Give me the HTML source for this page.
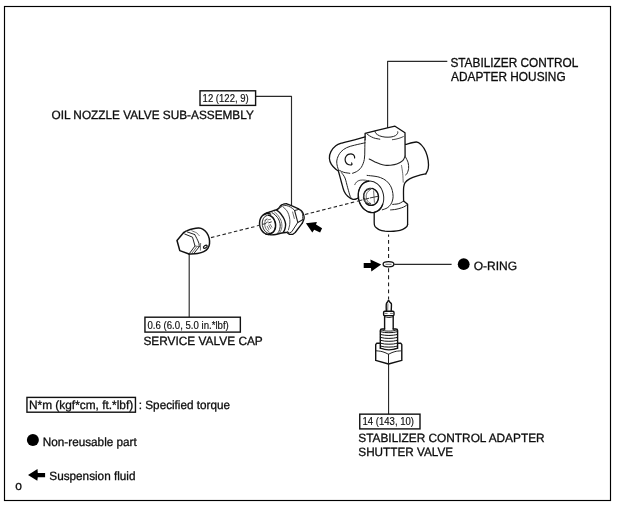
<!DOCTYPE html>
<html>
<head>
<meta charset="utf-8">
<title>Stabilizer Control Adapter Housing Components</title>
<style>
html,body{margin:0;padding:0;background:#fff;}
body{width:621px;height:509px;overflow:hidden;font-family:"Liberation Sans",sans-serif;}
svg{display:block;position:absolute;left:0;top:0;will-change:transform;filter:grayscale(1);}
text{font-family:"Liberation Sans",sans-serif;fill:#0a0a0a;}
.t{font-size:12px;stroke:#111;stroke-width:0.3px;}
.g{text-rendering:geometricPrecision;}
.s{font-size:10.1px;stroke:#222;stroke-width:0.15px;}
.ld{stroke:#2a2a2a;stroke-width:1.15;fill:none;stroke-linejoin:round;}
.bx{stroke:#111;stroke-width:1.4;fill:#fff;}
.dash{stroke:#222;stroke-width:1.1;fill:none;stroke-dasharray:3.5 2.4;}
.a{stroke:#111;stroke-width:1.3;fill:none;stroke-linecap:round;stroke-linejoin:round;}
.b{stroke:#222;stroke-width:1;fill:none;stroke-linecap:round;stroke-linejoin:round;}
.c{stroke:#333;stroke-width:0.7;fill:none;stroke-linecap:round;stroke-linejoin:round;}
.aw{stroke:#111;stroke-width:1.3;fill:#fff;stroke-linecap:round;stroke-linejoin:round;}
.bw{stroke:#222;stroke-width:1;fill:#fff;stroke-linecap:round;stroke-linejoin:round;}
.w{fill:#fff;stroke:none;}
</style>
</head>
<body>
<svg width="621" height="509" viewBox="0 0 621 509">
<rect x="0" y="0" width="621" height="509" fill="#fff"/>
<!-- frame -->
<rect x="4.5" y="6.5" width="606" height="494" fill="none" stroke="#000" stroke-width="1.15"/>

<!-- leader lines -->
<g id="leaders">
<path class="ld" d="M447.3 61.35 H387.6 V128"/>
<path class="ld" d="M255.6 96.4 H291.5 V205.5"/>
<path class="ld" d="M189.2 254 V317"/>
<path class="ld" d="M388.55 363.5 V414"/>
<path class="ld" d="M394.2 264.4 H451.6"/>
</g>

<!-- dashed axis lines -->
<g id="axes">
<path class="dash" d="M211 237.6 L255.5 226.4"/>
<path class="dash" d="M305 214.5 L355.5 201.7"/>
<path class="dash" d="M388.55 234.4 V299.2" style="stroke-dasharray:3.9 3.17;stroke-dashoffset:1.5"/>
</g>

<!-- parts -->
<g id="housing">
<path class="a" d="M365.1 139.8L365.1 133.4L375 130.8L387.4 127.8L395 126.2L405 132.8L405.1 156.2"/>
<path class="b" d="M364.9 139.8C364.9 141.5 364.9 146.7 364.8 150C364.7 153.3 364.9 156.6 364.3 159.5C363.7 162.4 362.6 165.3 361.3 167.3C360 169.3 357.9 170.7 356.4 171.7C354.9 172.7 353.1 172.9 352.5 173.2"/>
<path class="b" d="M375 131.3C375.2 131.7 375.2 132.8 376 133.5C376.8 134.2 378 135.2 379.5 135.8C381 136.4 383.1 136.9 385 137.1C386.9 137.3 389.2 137.2 391 137C392.8 136.8 394.4 136.2 395.5 135.6C396.6 135 397.2 134 397.6 133.4C398 132.8 397.7 132.1 397.7 131.8"/>
<path class="b" d="M366.9 133.9C367.3 134.2 368.4 135.2 369.5 135.8C370.6 136.5 372.2 137.3 373.5 137.8C374.8 138.3 375.9 138.5 377 138.7C378.1 138.9 379.3 139.1 379.8 139.2"/>
<path class="b" d="M392.4 139.7C393 139.6 394.7 139.4 396 139.1C397.3 138.8 398.8 138.4 400 138C401.2 137.6 402.8 136.8 403.3 136.6" style="stroke-width:0.85"/>
<path class="b" d="M369.2 159C370.2 159.5 373.2 161.1 375 161.9C376.8 162.7 378.3 163.4 380 164C381.7 164.6 383.4 165 385 165.2C386.6 165.4 387.9 165.5 389.9 165.3C391.9 165.1 394.7 164.9 396.8 164.1C398.9 163.3 401.3 161.9 402.7 160.6C404.1 159.3 404.7 156.9 405.1 156.2" style="stroke-width:1.1"/>
<path class="a" d="M365.1 136.9C363.3 137.4 358.2 138.8 354.5 139.8C350.8 140.8 345.8 141.8 342.7 142.8C339.6 143.8 337.8 144.2 335.8 145.7C333.8 147.2 332 149.5 330.9 151.6C329.8 153.7 329.3 156.4 329.4 158.5C329.5 160.6 330.3 162.6 331.4 164.4C332.5 166.2 334.6 168.2 335.8 169.3C337 170.4 337.9 170.6 338.3 170.8"/>
<path class="b" d="M365.1 142.8C363.3 143.2 357.6 144.4 354.5 145.2C351.4 146 348.9 146.5 346.6 147.7C344.3 148.8 342.2 150.3 340.7 152.1C339.1 153.9 337.9 156.6 337.3 158.5C336.7 160.4 336.6 161.6 336.8 163.4C337 165.2 337.8 168.1 338.3 169.3C338.8 170.5 338.8 170 339.7 170.5C340.6 171 342 171.8 343.7 172.3C345.4 172.8 348.8 173.1 349.8 173.3"/>
<path class="a" d="M354.6 158C354.6 157.7 354.7 156.9 354.4 156.3C354.1 155.7 353.6 155 353 154.6C352.4 154.2 351.8 153.8 351 153.8C350.2 153.8 349.1 154 348.3 154.4C347.5 154.8 346.5 155.7 346 156.5C345.5 157.3 345.1 158.5 345.1 159.5C345.1 160.5 345.5 161.8 346 162.6C346.5 163.4 347.5 164.2 348.2 164.6C348.9 165 349.7 165 350.3 165C350.9 165 351.8 164.7 352 164.4C352.2 164.1 351.7 163.2 351.6 163" style="stroke-width:1.2"/>
<path class="a" d="M338.4 171C338.9 172.9 340.6 179.1 341.5 182.5C342.4 185.9 343.1 189 344.1 191.3C345.1 193.6 346.2 194.9 347.7 196.2C349.2 197.5 351.4 198.9 353 199.3C354.6 199.7 356.4 198.8 357.4 198.4C358.3 198 358.5 197.2 358.7 197"/>
<path class="b" d="M341.5 172.7C342.1 173.6 344 175.5 345 178C346 180.5 346.8 184.7 347.7 187.8C348.6 190.9 349.6 194.9 350.3 196.6C351 198.3 351.4 197.9 351.6 198.2"/>
<path class="a" d="M405.6 144.4C407.4 144 413.8 141.9 416.4 142C419 142.1 419.7 143.3 421.3 144.9C422.9 146.5 424.7 149.2 425.8 151.8C426.9 154.4 427.8 157.8 428.2 160.6C428.6 163.4 428.6 166.3 428.2 168.5C427.8 170.7 426.2 173 425.8 173.9"/>
<path class="a" d="M425.8 173.9C424.4 174.2 420.1 175.1 417.4 175.9C414.7 176.7 411.7 177.7 409.6 178.8C407.6 179.9 406.1 181.3 405.1 182.7C404.1 184.1 404 185.3 403.7 187.2C403.4 189.1 403.5 191.7 403.5 194C403.5 196.3 403.6 199.8 403.6 201"/>
<path class="b" d="M405.6 157.2C406 158.1 407.6 160.7 408.1 162.6C408.6 164.5 408.8 166.7 408.6 168.5C408.4 170.3 407.6 172.3 407.1 173.4C406.6 174.5 405.9 174.7 405.6 174.9"/>
<path class="c" d="M401.5 165.5C401.7 166.8 402.4 170.6 402.7 173.4C403 176.2 403.1 180.7 403.2 182.2"/>
<path class="b" d="M367.1 175.4C368.4 175.6 372.8 175.9 375 176.3C377.2 176.7 378.6 176.8 380.5 177.6C382.4 178.3 384.7 179.5 386.3 180.8C387.9 182.1 389.3 183.9 390.3 185.5C391.3 187.1 391.8 188.7 392.3 190.5C392.8 192.3 393.1 194.8 393.1 196.6C393.1 198.3 392.7 199.7 392.3 201C391.9 202.3 391.5 203.4 390.6 204.6C389.8 205.8 388.6 207 387.2 207.9C385.8 208.8 383.1 209.5 382.3 209.8"/>
<path class="b" d="M354.8 184.7C355.1 184.2 355.6 182.8 356.5 182C357.4 181.2 358.6 180.5 360.1 180.2C361.6 179.9 363.9 180 365.4 180.2C366.9 180.3 368.3 180.9 368.9 181.1" style="stroke-width:0.8"/>
<ellipse class="b" cx="371" cy="196.8" rx="12.6" ry="15.9" transform="rotate(-12 371 196.8)"/>
<path class="a" d="M368.8 181.1C368.2 181.3 366.3 181.6 365.2 182.1C364.1 182.7 363 183.5 362.2 184.4C361.3 185.4 360.5 186.6 359.9 187.8C359.3 189.1 358.8 190.5 358.5 192C358.3 193.5 358.2 195.1 358.3 196.6C358.4 198.1 358.7 199.7 359.1 201.2C359.6 202.7 360.2 204.1 361 205.4C361.8 206.7 362.7 207.9 363.8 208.9C364.8 209.9 366 210.7 367.1 211.3C368.3 211.9 369.6 212.3 370.8 212.5C372.1 212.6 373.4 212.6 374.6 212.3C375.8 212 376.9 211.5 378 210.8C379 210.1 380 209.1 380.8 208C381.6 206.9 382.4 204.9 382.7 204.3"/>
<ellipse class="b" cx="370.9" cy="196.8" rx="7.6" ry="8.6" transform="rotate(-8 370.9 196.8)"/>
<path class="a" d="M372.3 188.4C372.8 188.6 374.2 189.1 374.9 189.7C375.7 190.3 376.4 191 377 191.9C377.5 192.7 378 193.7 378.2 194.7C378.5 195.7 378.6 196.8 378.5 197.8C378.4 198.9 378.2 199.9 377.8 200.8C377.4 201.7 376.8 202.6 376.1 203.3C375.4 203.9 374.6 204.5 373.8 204.9C372.9 205.2 371.9 205.4 371 205.4C370.1 205.4 369.2 205.1 368.3 204.8C367.4 204.4 366.3 203.4 365.9 203.1" style="stroke-width:1.3"/>
<path class="b" d="M370.7 204C370.3 203.9 368.9 203.8 368.1 203.4C367.4 203.1 366.6 202.5 366 201.7C365.3 201 364.8 200.1 364.5 199.2C364.2 198.3 364 197.2 364 196.2C364 195.2 364.2 194.1 364.5 193.2C364.9 192.4 365.4 191.5 366 190.9C366.7 190.3 367.5 189.8 368.2 189.5C369 189.2 370.4 189.3 370.8 189.3"/>
<path class="c" d="M370.7 203.4C370.4 203.2 369.5 202.9 369 202.5C368.5 202.1 368 201.6 367.6 201.1C367.2 200.5 366.9 199.8 366.6 199.1C366.4 198.4 366.2 197.7 366.2 197C366.1 196.2 366.2 195.5 366.3 194.8C366.5 194.1 366.7 193.4 367 192.8C367.3 192.2 367.7 191.7 368.2 191.3C368.7 190.8 369.5 190.5 369.7 190.3"/>
<path class="c" d="M373.6 190.8L374.4 202.3"/>
<path class="b" d="M357.3 201.2L362 200" style="stroke:#333"/>
<path class="b" d="M364.3 199.4L368.8 198.3" style="stroke:#333"/>
<path class="b" d="M370.3 197.9L378 196.3" style="stroke:#333"/>
<path class="a" d="M374.2 212.4C374.2 213.7 374.2 217.9 374.2 220C374.2 222.1 374.1 223.5 374.4 224.8C374.7 226.1 375.1 226.8 376 227.6C376.9 228.4 378 229.3 379.5 229.9C381 230.5 383.1 230.9 385 231.2C386.9 231.4 388.6 231.4 390.6 231.4C392.6 231.4 395 231.2 397 230.9C399 230.6 401.2 230 402.8 229.3C404.4 228.6 405.8 227.6 406.6 226.8C407.4 226 407.4 224.9 407.6 224.5"/>
<path class="a" d="M407.6 224.5L407.6 204.3L403.6 201"/>
<path class="b" d="M392.7 204.4C393.4 204.3 395.7 204.2 397 204C398.3 203.8 399.2 203.5 400.3 203C401.4 202.5 403.1 201.3 403.6 201"/>
<path class="b" d="M390.6 209.9C391.5 209.8 394.2 209.7 396 209.3C397.8 209 400.1 208.3 401.6 207.8C403.1 207.3 404.1 206.9 405 206.3C405.9 205.8 406.9 204.8 407.3 204.5"/>
</g>
<g id="nozzle">
<path class="a" d="M278.7 208.3C278.9 208 279.5 207 280 206.4C280.5 205.8 281.1 205.3 281.7 204.9C282.3 204.5 283.1 204.2 283.8 204C284.6 203.8 285.8 203.8 286.2 203.7"/>
<path class="a" d="M286.2 203.7L291.4 205.6L298.1 208.6"/>
<path class="a" d="M298.1 208.6C298.7 209 301 210.1 301.9 211.2C302.8 212.2 303.3 213.7 303.7 214.9C304.1 216.2 304.3 217.3 304.1 218.7C303.9 220.1 302.6 222.4 302.3 223.1"/>
<path class="a" d="M302.3 223.1L295.2 232.5L292.9 234.3L289.2 234.3L286.9 232.5"/>
<path class="b" d="M279.9 207.9C280.3 207.6 281.4 206.5 282.5 206.1C283.6 205.7 284.8 205.3 286.2 205.5C287.6 205.7 289.4 206.5 290.7 207.2C292 207.9 293.4 209.4 294 209.8" style="stroke-width:0.9"/>
<path class="b" d="M294.6 210.5L298.9 209.4"/>
<path class="b" d="M298.9 209.4C299.2 209.7 300.3 210.3 300.9 210.9C301.5 211.5 302 212.3 302.3 213.2C302.6 214.1 302.6 215.4 302.7 216.5C302.8 217.6 302.6 219.2 302.6 219.8" style="stroke-width:0.9"/>
<path class="b" d="M302.6 219.8L297.8 222.4L294.6 210.5" style="stroke-width:1.1"/>
<path class="b" d="M297.8 222.4L291.8 231.7L289.2 233.2L287.6 231.4"/>
<path class="b" d="M283.6 207.6C284.1 208 285.6 209 286.5 210.2C287.4 211.3 288.1 212.9 288.7 214.5C289.2 216.1 289.6 217.8 289.8 219.5C290 221.2 289.9 222.8 289.7 224.5C289.5 226.2 288.6 229 288.4 229.9" style="stroke-width:0.8"/>
<path class="c" d="M292.6 212C292.7 212.5 293.1 213.9 293.4 215C293.7 216.1 294.1 217.9 294.3 218.5"/>
<path class="a" d="M263.8 214.8C264.2 214.5 265.5 213.5 266.5 213C267.5 212.5 268.4 212.4 269.6 212C270.8 211.6 272.3 211.1 273.5 210.7C274.7 210.3 275.8 210.1 276.7 209.7C277.6 209.3 278.4 208.6 278.7 208.4" style="stroke-width:1.4"/>
<path class="a" d="M266 234.2C266.8 234.3 269.1 234.8 270.7 234.8C272.3 234.9 273.7 234.8 275.6 234.5C277.5 234.2 280 233.3 281.9 233C283.8 232.7 285.9 232.5 286.7 232.4" style="stroke-width:1.4"/>
<path class="a" d="M276.7 210.3C277.1 210.6 278.5 211.5 279.3 212.2C280.1 212.9 280.7 213.7 281.4 214.7C282.1 215.7 283 216.9 283.6 218C284.2 219.1 284.7 220.4 285 221.4C285.3 222.4 285.5 223.3 285.6 224.2C285.7 225.1 285.5 225.8 285.4 226.7C285.2 227.6 285 228.7 284.7 229.6C284.4 230.5 283.6 231.7 283.4 232.1" style="stroke-width:1.4"/>
<path class="b" d="M272 212.7C272.5 213 274.1 213.9 275 214.7C275.9 215.5 276.7 216.5 277.4 217.4C278.1 218.3 278.6 219.2 279 220.2C279.4 221.2 279.8 222.3 280 223.4C280.2 224.5 280.2 225.5 280.2 226.5C280.1 227.5 279.9 228.6 279.7 229.4C279.5 230.2 279.2 230.9 278.8 231.6C278.4 232.3 277.6 233.1 277.4 233.4"/>
<path class="c" d="M274.5 212C274.9 212.4 276.4 213.5 277.2 214.4C278 215.3 278.8 216.4 279.4 217.4C280 218.4 280.5 219.2 280.9 220.2C281.3 221.2 281.5 222.3 281.7 223.4C281.9 224.5 281.9 225.5 281.9 226.5C281.8 227.5 281.6 228.6 281.4 229.4C281.1 230.2 280.8 230.9 280.4 231.6C280 232.3 279.2 233.1 279 233.4"/>
<path class="a" d="M270.6 214.1C270.1 214 268.9 213.5 268.1 213.5C267.2 213.4 266.4 213.5 265.6 213.7C264.8 214 264 214.4 263.3 214.9C262.6 215.4 262 216 261.5 216.8C260.9 217.5 260.5 218.4 260.2 219.3C259.9 220.2 259.7 221.2 259.6 222.2C259.5 223.2 259.5 224.2 259.7 225.3C259.8 226.3 260.1 227.3 260.5 228.2C260.9 229.1 261.4 230 262 230.8C262.6 231.6 263.3 232.3 264 232.8C264.7 233.4 265.5 233.8 266.3 234.1C267.1 234.4 268.4 234.5 268.8 234.5" style="stroke-width:1.45"/>
<ellipse class="b" cx="268.9" cy="224.4" rx="6.6" ry="9.2" transform="rotate(-10 268.9 224.4)" style="stroke-width:0.9"/>
<path class="a" d="M268.7 215.3C269 215.4 270.1 215.6 270.7 216C271.4 216.3 272.1 216.8 272.6 217.4C273.2 218 273.7 218.8 274.1 219.6C274.6 220.4 274.9 221.3 275.2 222.2C275.4 223.1 275.6 224.1 275.6 225C275.6 225.9 275.5 226.9 275.4 227.8C275.2 228.6 274.9 229.5 274.5 230.2C274.2 230.9 273.7 231.6 273.1 232.1C272.6 232.6 272 233 271.4 233.2C270.7 233.5 269.7 233.5 269.3 233.5" style="stroke-width:1.5"/>
<path class="c" d="M268.8 231.5C268.5 231.3 267.5 230.8 267 230.2C266.5 229.6 265.9 228.9 265.6 228.1C265.2 227.3 265 226.4 264.8 225.5C264.7 224.6 264.7 223.6 264.8 222.8C264.9 221.9 265.2 221.1 265.6 220.4C265.9 219.7 266.7 219 267 218.7"/>
<path class="c" d="M267.2 226.3L269 229.8"/>
<path class="c" d="M268.7 225.1L270.7 228.6"/>
<path class="c" d="M270.1 224.3L271.9 227.2"/>
<path class="c" d="M264.8 220.5L266.6 219.3"/>
<path class="c" d="M267.8 219.9L270.6 219.3"/>
<path class="c" d="M266.2 222.6L268 221.8"/>
<path class="b" d="M257.2 225.8L259.5 225.2" style="stroke:#333"/>
<path class="b" d="M263.1 224.2L265.8 223.6" style="stroke:#333"/>
<path class="b" d="M268.7 222.8L271.3 221.9" style="stroke:#333"/>
</g>
<g id="cap">
<path class="a" d="M183.7 232.6C184.3 232.3 185.6 231.2 187.2 230.6C188.8 229.9 191.2 229.1 193.2 228.7C195.1 228.3 197.2 228 198.9 228.1C200.6 228.2 201.8 228.6 203.1 229.4C204.4 230.2 205.8 231.4 206.8 232.9C207.8 234.4 208.8 236.5 209.2 238.3C209.6 240.1 209.7 242.2 209.5 243.9C209.3 245.6 208.8 246.9 207.9 248.2C207 249.5 205.5 250.7 203.8 251.6C202.1 252.5 200 253 197.5 253.4C195 253.8 190.4 253.9 189 254" style="stroke-width:1.5"/>
<path class="a" d="M183.7 232.6L177 240.5L179.8 250.6L189 254" style="stroke-width:1.5"/>
<path class="b" d="M184.7 234L192.5 237.2L195 246L189.7 253.1"/>
<path class="b" d="M187.2 231.9L194.6 234.5"/>
<path class="b" d="M194.6 234.4C195 235.1 196.1 237 196.8 238.5C197.5 240 198.5 241.8 198.9 243.2C199.3 244.5 199.1 246 199.2 246.6"/>
<path class="b" d="M199.2 246.8L193.9 253.4"/>
<path class="c" d="M195 246L199.2 246.6"/>
<path class="c" d="M196.6 247L191.8 253.3"/>
<path class="c" d="M191.8 230.8C192.6 231.2 195.6 232.2 196.8 233C198 233.8 198.8 235.2 199.2 235.6"/>
<path class="c" d="M200.6 243.4L200.4 250.2"/>
<ellipse class="a" cx="205.3" cy="246.7" rx="2.1" ry="1.2" transform="rotate(-32 205.3 246.7)" style="stroke-width:1.2"/>
</g>
<g id="shutter">
<path class="a" d="M386.3 311C386.3 310.2 386.2 307.7 386.2 306.5C386.2 305.3 386.2 304.4 386.4 303.6C386.6 302.9 387.1 302.6 387.5 302C387.9 301.4 388.2 300.3 388.6 300.3C388.9 300.3 389.2 301.4 389.7 302C390.2 302.6 391 302.9 391.3 303.6C391.6 304.4 391.4 305.3 391.4 306.5C391.4 307.7 391.2 310.2 391.2 311" style="stroke-width:1.4"/>
<path class="c" d="M387.9 303.8L387.7 310.4"/>
<path class="a" d="M384.8 311.2 H392.8 Q394 311.2 394 312.4 V314.4 Q394 315.6 392.8 315.6 H384.8 Q383.6 315.6 383.6 314.4 V312.4 Q383.6 311.2 384.8 311.2Z" style="stroke-width:1.4"/>
<path class="c" d="M385 313.4L387.2 313.4"/>
<path class="c" d="M390.5 313.4L392.6 313.4"/>
<path class="a" d="M384.6 315.6L384.6 329" style="stroke-width:1.4"/>
<path class="a" d="M393.2 315.6L393.2 329" style="stroke-width:1.4"/>
<path class="b" d="M385 316.8C385.6 316.9 387.6 317.5 388.9 317.5C390.2 317.5 392.1 316.9 392.8 316.8"/>
<path class="a" d="M384.6 329 H382 Q380.3 329 380.3 330.6 V348.2" style="stroke-width:1.4"/>
<path class="a" d="M393.2 329 H395.9 Q397.6 329 397.6 330.6 V348.2" style="stroke-width:1.4"/>
<path class="b" d="M381 330C381.7 330.1 383.7 330.7 385 330.9C386.3 331.1 387.6 331.1 388.9 331.1C390.2 331.1 391.4 331.1 392.8 330.9C394.2 330.7 396.3 330.1 397 330"/>
<path class="a" d="M380.3 331.6C381 331.7 383.1 332.3 384.5 332.5C385.9 332.6 387.4 332.7 388.9 332.7C390.4 332.7 391.9 332.6 393.3 332.5C394.8 332.3 396.9 331.7 397.6 331.6" style="stroke-width:1"/>
<path class="a" d="M380.3 334.4C381 334.5 383.1 335.1 384.5 335.2C385.9 335.4 387.4 335.5 388.9 335.5C390.4 335.5 391.9 335.4 393.3 335.2C394.8 335.1 396.9 334.5 397.6 334.4" style="stroke-width:1"/>
<path class="a" d="M380.3 337.3C381 337.4 383.1 338 384.5 338.2C385.9 338.3 387.4 338.4 388.9 338.4C390.4 338.4 391.9 338.3 393.3 338.2C394.8 338 396.9 337.4 397.6 337.3" style="stroke-width:1"/>
<path class="a" d="M380.3 340.2C381 340.3 383.1 340.9 384.5 341.1C385.9 341.2 387.4 341.3 388.9 341.3C390.4 341.3 391.9 341.2 393.3 341.1C394.8 340.9 396.9 340.3 397.6 340.2" style="stroke-width:1"/>
<path class="a" d="M380.3 343.1C381 343.2 383.1 343.8 384.5 344C385.9 344.1 387.4 344.2 388.9 344.2C390.4 344.2 391.9 344.1 393.3 344C394.8 343.8 396.9 343.2 397.6 343.1" style="stroke-width:1"/>
<path class="a" d="M380.3 346C381 346.1 383.1 346.7 384.5 346.9C385.9 347 387.4 347.1 388.9 347.1C390.4 347.1 391.9 347 393.3 346.9C394.8 346.7 396.9 346.1 397.6 346" style="stroke-width:1"/>
<path class="a" d="M380.3 348.2C381 348.4 383.1 349.1 384.5 349.4C385.9 349.7 387.4 349.8 388.9 349.8C390.4 349.8 391.9 349.7 393.3 349.4C394.8 349.1 396.9 348.4 397.6 348.2"/>
<path class="a" d="M380.3 343.2L376.6 343.3L375.7 344.6L375.7 360.4L388.5 364L401.8 360.4L401.8 344.6L400.9 343.3L397.6 343.2" style="stroke-width:1.4"/>
<path class="b" d="M376.2 350.8C377 350.9 379.3 351 380.8 351.3C382.3 351.6 383.7 352.1 385 352.6C386.3 353.1 387.9 354 388.5 354.3"/>
<path class="b" d="M388.5 354.3C389.1 354 390.7 353.1 392 352.6C393.3 352.1 394.8 351.6 396.3 351.3C397.9 351 400.5 350.9 401.3 350.8"/>
<path class="b" d="M388.5 354.3L388.5 364"/>
</g>

<!-- fluid arrow at nozzle -->
<path d="M305.9 223.2 L316.9 222.1 L316 224.6 L322.1 228.3 L320.1 232.4 L314.2 229.7 L312.3 232.4 Z" fill="#000"/>
<!-- o-ring + symbols -->
<g id="oring">
<ellipse cx="388.5" cy="264.3" rx="5.4" ry="2.6" fill="#fff" stroke="#111" stroke-width="1.3"/>
<path d="M385.5 264.3 H391.5" stroke="#333" stroke-width="0.7" fill="none"/>
<circle cx="463.7" cy="264.2" r="5.9" fill="#000"/>
<path d="M363.7 262.9 L370.7 262.9 L370.4 259.6 L381.2 264.5 L371.3 271.4 L371 267.9 L363.7 267.9 Z" fill="#000"/>
</g>

<!-- torque boxes -->
<rect class="bx" x="200" y="90.8" width="55.6" height="14.6"/>
<rect class="bx" x="144.95" y="317.2" width="95.4" height="14.9"/>
<rect class="bx" x="359.75" y="414.15" width="60.25" height="14.75"/>
<rect class="bx" x="26.95" y="397.4" width="108.5" height="14.8"/>

<!-- text -->
<g id="labels">
<text class="t" x="450.4" y="66.8" textLength="127.9" lengthAdjust="spacingAndGlyphs">STABILIZER CONTROL</text>
<text class="t" x="451.1" y="80.8" textLength="114.5" lengthAdjust="spacingAndGlyphs">ADAPTER HOUSING</text>
<text class="s" x="202.6" y="101.6" textLength="46.2" lengthAdjust="spacingAndGlyphs">12 (122, 9)</text>
<text class="t g" x="51.5" y="118.9" textLength="202.3" lengthAdjust="spacingAndGlyphs">OIL NOZZLE VALVE SUB-ASSEMBLY</text>
<text class="t g" x="473.7" y="269.8" textLength="43.4" lengthAdjust="spacingAndGlyphs">O-RING</text>
<text class="s" x="147.5" y="328.8" textLength="81.3" lengthAdjust="spacingAndGlyphs">0.6 (6.0, 5.0 in.*lbf)</text>
<text class="t g" x="143.4" y="345.4" textLength="119.4" lengthAdjust="spacingAndGlyphs">SERVICE VALVE CAP</text>
<text class="s" x="362.5" y="425" textLength="51.5" lengthAdjust="spacingAndGlyphs">14 (143, 10)</text>
<text class="t g" x="358.3" y="441.7" textLength="186.3" lengthAdjust="spacingAndGlyphs">STABILIZER CONTROL ADAPTER</text>
<text class="t g" x="358.3" y="455.7" textLength="94.8" lengthAdjust="spacingAndGlyphs">SHUTTER VALVE</text>
<text class="t g" x="29" y="408.9" textLength="104.2" lengthAdjust="spacingAndGlyphs">N*m (kgf*cm, ft.*lbf)</text>
<text class="t g" x="138.8" y="408.9" textLength="91.2" lengthAdjust="spacingAndGlyphs">: Specified torque</text>
<text class="t g" x="42.8" y="445.8" textLength="94" lengthAdjust="spacingAndGlyphs">Non-reusable part</text>
<text class="t g" x="49.3" y="479.7" textLength="86.2" lengthAdjust="spacingAndGlyphs">Suspension fluid</text>
<text class="t" x="15.2" y="489.7">o</text>
</g>

<!-- legend symbols -->
<circle cx="32.9" cy="440" r="6" fill="#000"/>
<path d="M28 474.9 L37.5 469.1 L37.8 472.9 L45.1 472.9 L45.1 477.3 L37.8 477.3 L37.3 480.7 Z" fill="#000"/>
</svg>
</body>
</html>
